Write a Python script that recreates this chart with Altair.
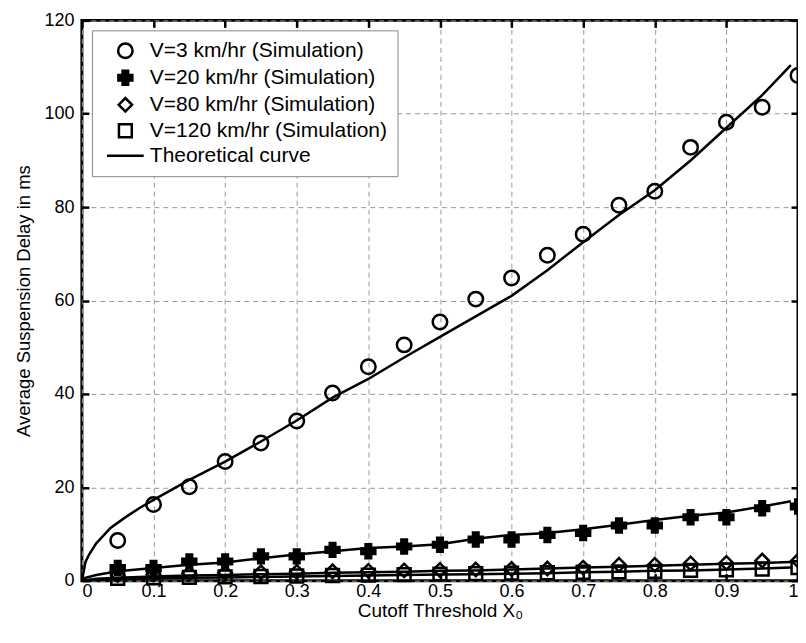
import altair as alt
import pandas as pd

# ---------------- data ----------------
series_names = [
    "V=3 km/hr (Simulation)",
    "V=20 km/hr (Simulation)",
    "V=80 km/hr (Simulation)",
    "V=120 km/hr (Simulation)",
    "Theoretical curve",
]

x_sim = [0.05, 0.10, 0.15, 0.20, 0.25, 0.30, 0.35, 0.40, 0.45, 0.50,
         0.55, 0.60, 0.65, 0.70, 0.75, 0.80, 0.85, 0.90, 0.95, 1.00]
v3_sim = [8.6, 16.3, 20.1, 25.5, 29.5, 34.2, 40.2, 45.8, 50.5, 55.4,
          60.3, 64.8, 69.7, 74.2, 80.4, 83.4, 92.8, 98.2, 101.4, 108.2]
v20_sim = [2.7, 2.7, 4.1, 4.1, 5.2, 5.2, 6.6, 6.3, 7.3, 7.7,
           8.8, 8.8, 9.8, 10.2, 11.8, 11.8, 13.6, 13.6, 15.5, 15.9]
v80_sim = [1.2, 1.3, 1.6, 1.7, 1.8, 1.9, 2.0, 2.1, 2.2, 2.3,
           2.4, 2.5, 2.6, 2.8, 3.4, 3.4, 3.7, 3.8, 4.3, 4.3]
v120_sim = [0.5, 0.6, 0.7, 0.8, 0.9, 1.0, 1.1, 1.2, 1.3, 1.4,
            1.5, 1.6, 1.7, 1.8, 1.9, 2.0, 2.2, 2.3, 2.5, 2.8]

x_th3 = [0.0, 0.005, 0.01, 0.02, 0.04, 0.06, 0.08, 0.10, 0.15, 0.20, 0.25,
         0.30, 0.35, 0.40, 0.45, 0.50, 0.55, 0.60, 0.65, 0.70, 0.75, 0.80,
         0.85, 0.90, 0.95, 0.99]
v3_th = [0.0, 4.0, 5.6, 8.0, 11.3, 13.5, 15.5, 17.3, 21.6, 25.5, 29.8,
         34.3, 39.2, 43.2, 47.8, 52.2, 56.6, 61.0, 66.5, 72.5, 78.3, 83.6,
         90.0, 97.0, 104.0, 110.4]

x_th = [0.0, 0.02, 0.05, 0.10, 0.15, 0.20, 0.25, 0.30, 0.35, 0.40, 0.45,
        0.50, 0.55, 0.60, 0.65, 0.70, 0.75, 0.80, 0.85, 0.90, 0.95, 0.99]
v20_th = [0.4, 1.2, 2.0, 2.7, 3.4, 3.9, 4.8, 5.6, 6.3, 7.0, 7.3,
          7.8, 9.0, 9.8, 10.2, 11.0, 12.0, 13.0, 13.9, 14.6, 15.9, 17.0]
v80_th = [0.0, 0.4, 0.6, 0.9, 1.1, 1.2, 1.4, 1.5, 1.7, 1.8, 1.9,
          2.1, 2.2, 2.4, 2.6, 2.8, 3.0, 3.2, 3.4, 3.6, 3.8, 4.0]
v120_th = [0.0, 0.2, 0.3, 0.5, 0.6, 0.7, 0.8, 0.9, 1.0, 1.1, 1.2,
           1.3, 1.4, 1.5, 1.6, 1.8, 1.9, 2.1, 2.2, 2.4, 2.6, 2.8]

x_ticks = [0, 0.1, 0.2, 0.3, 0.4, 0.5, 0.6, 0.7, 0.8, 0.9, 1]
y_ticks = [0, 20, 40, 60, 80, 100, 120]

# ---------------- tables ----------------
sim_rows = []
for name, vals in zip(series_names[:4], [v3_sim, v20_sim, v80_sim, v120_sim]):
    for xv, yv in zip(x_sim, vals):
        sim_rows.append({"x": xv, "y": yv, "series": name})
sim_df = pd.DataFrame(sim_rows)

th_rows = []
for xv, yv in zip(x_th3, v3_th):
    th_rows.append({"x": xv, "y": yv, "curve": "V3"})
for cname, vals in zip(["V20", "V80", "V120"], [v20_th, v80_th, v120_th]):
    for xv, yv in zip(x_th, vals):
        th_rows.append({"x": xv, "y": yv, "curve": cname})
th_df = pd.DataFrame(th_rows)

# ---------------- styling ----------------
W, H = 717, 561
FONT = "Liberation Sans"
x_scale = alt.Scale(domain=[0, 1], nice=False, zero=False)
y_scale = alt.Scale(domain=[0, 120], nice=False)

legend = alt.Legend(
    orient="none", legendX=10, legendY=10, title=None,
    labelFont=FONT, labelFontSize=21, labelColor="black", labelLimit=0,
    fillColor="white", strokeColor="#888", padding=10,
    rowPadding=2, symbolStrokeWidth=2.5, symbolOffset=13,
    labelOffset=14, symbolOpacity=1,
)

line_symbol = "M-3,0L3,0"
shape_scale = alt.Scale(domain=series_names,
                        range=["circle", "cross", "diamond", "square", line_symbol])
fill_scale = alt.Scale(domain=series_names,
                       range=["transparent", "black", "transparent", "transparent", "black"])
stroke_scale = alt.Scale(domain=series_names,
                         range=["black", "black", "black", "black", "black"])
size_scale = alt.Scale(domain=series_names, range=[210, 150, 150, 130, 196])

main_x_axis = alt.Axis(
    orient="bottom", values=x_ticks, format="~g", tickSize=0, domain=False,
    grid=True, gridDash=[5, 4], gridColor="#999", gridWidth=1,
    labelFont=FONT, labelFontSize=18, labelColor="black", labelPadding=2,
    title="Cutoff Threshold X₀", titleFont=FONT, titleFontSize=19,
    titleFontWeight="normal", titleColor="black", titlePadding=1,
)
main_y_axis = alt.Axis(
    orient="left", values=y_ticks, tickSize=0, domain=False,
    grid=True, gridDash=[5, 4], gridColor="#999", gridWidth=1,
    labelFont=FONT, labelFontSize=18, labelColor="black", labelPadding=8,
    title="Average Suspension Delay in ms", titleFont=FONT, titleFontSize=18.5,
    titleFontWeight="normal", titleColor="black", titlePadding=10,
)


def tick_axis(orient, values, offset):
    return alt.Axis(orient=orient, values=values, offset=offset, tickSize=7,
                    tickWidth=2.5, tickColor="black", labels=False,
                    domain=False, grid=False, title=None)


theory = alt.Chart(th_df).mark_line(color="black", strokeWidth=2.5).encode(
    x=alt.X("x:Q", scale=x_scale, axis=main_x_axis),
    y=alt.Y("y:Q", scale=y_scale, axis=main_y_axis),
    detail="curve:N",
    order="x:Q",
)

points = alt.Chart(sim_df).mark_point(
    strokeWidth=2.5, opacity=1, clip=False
).encode(
    x=alt.X("x:Q", scale=x_scale, axis=tick_axis("top", x_ticks, -H)),
    y=alt.Y("y:Q", scale=y_scale, axis=tick_axis("right", y_ticks, -W)),
    shape=alt.Shape("series:N", scale=shape_scale, legend=legend, title=None),
    fill=alt.Fill("series:N", scale=fill_scale, legend=legend, title=None),
    stroke=alt.Stroke("series:N", scale=stroke_scale, legend=legend, title=None),
    size=alt.Size("series:N", scale=size_scale, legend=legend, title=None),
)

frame_ticks = alt.Chart(th_df).mark_line(opacity=0).encode(
    x=alt.X("x:Q", scale=x_scale, axis=tick_axis("bottom", x_ticks, -H)),
    y=alt.Y("y:Q", scale=y_scale, axis=tick_axis("left", y_ticks, -W)),
    detail="curve:N",
)

chart = alt.layer(theory, points, frame_ticks).resolve_axis(
    x="independent", y="independent"
).properties(
    width=W, height=H,
    autosize=alt.AutoSizeParams(type="none"),
    padding={"left": 74, "top": 12, "right": 0, "bottom": 45},
    background="white",
).configure_view(stroke="black", strokeWidth=3)

chart.save("out.html", embed_options={"renderer": "svg", "actions": False})
